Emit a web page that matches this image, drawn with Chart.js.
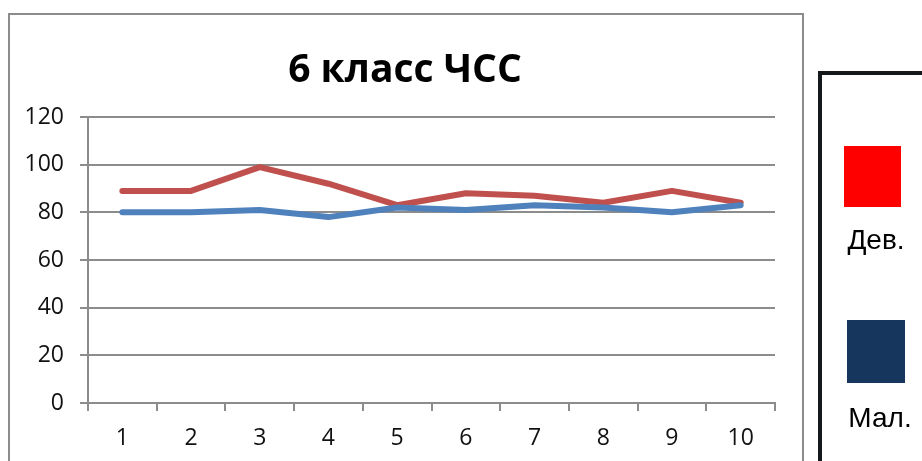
<!DOCTYPE html>
<html>
<head>
<meta charset="utf-8">
<script src="https://cdn.jsdelivr.net/npm/chart.js@4.4.1/dist/chart.umd.min.js"></script>
<style>
  html, body { margin: 0; padding: 0; background: #fff; }
  canvas { display: block; }
</style>
</head>
<body>
<canvas id="chart" width="922" height="461"></canvas>
<script>
"use strict";
const chartTitle = "6 класс ЧСС";
const categories = ["1", "2", "3", "4", "5", "6", "7", "8", "9", "10"];
const girlsLabel = "Дев.";
const boysLabel = "Мал.";
const girlsValues = [89, 89, 99, 92, 83, 88, 87, 84, 89, 84];
const boysValues = [80, 80, 81, 78, 82, 81, 83, 82, 80, 83];

document.addEventListener("DOMContentLoaded", () => {
    const ctx = document.getElementById("chart").getContext("2d");
    Chart.defaults.font.family = "Open Sans";
    Chart.defaults.font.size = 23;
    Chart.defaults.color = "#111";

    // frame, title and the legend box like the excel export
    const decor = {
        id: "decor",
        beforeDraw(chart) {
            const c = chart.ctx;
            c.save();
            c.fillStyle = "#fff";
            c.fillRect(0, 0, chart.width, chart.height);
            c.strokeStyle = "#8c8c8c";
            c.lineWidth = 2;
            c.strokeRect(9, 14, 794, 470);
            c.restore();
        },
        afterDraw(chart) {
            const c = chart.ctx;
            c.save();
            c.fillStyle = "#000";
            c.font = "bold 39px 'Open Sans'";
            c.textAlign = "center";
            c.textBaseline = "alphabetic";
            c.fillText(chartTitle, 405, 82);

            c.strokeStyle = "#15191c";
            c.lineWidth = 4;
            c.strokeRect(820, 73, 200, 420);

            const boxes = [
                { fill: "#ff0000", x: 844, y: 146, w: 57, h: 61, tx: 876, ty: 249 },
                { fill: "#17365d", x: 847, y: 320, w: 58, h: 63, tx: 880, ty: 427 },
            ];
            const labels = [chart.data.datasets[0].label, chart.data.datasets[1].label];
            c.font = "28px 'Liberation Sans'";
            boxes.forEach((b, i) => {
                c.fillStyle = b.fill;
                c.fillRect(b.x, b.y, b.w, b.h);
                c.fillStyle = "#000";
                c.fillText(labels[i], b.tx, b.ty);
            });
            c.restore();
        },
    };

    new Chart(ctx, {
        type: "line",
        data: {
            labels: categories,
            datasets: [
                {
                    label: girlsLabel,
                    data: girlsValues,
                    borderColor: "#c0504d",
                    borderWidth: 6,
                    order: 2,
                },
                {
                    label: boysLabel,
                    data: boysValues,
                    borderColor: "#4f81bd",
                    borderWidth: 6,
                    order: 1,
                },
            ],
        },
        options: {
            responsive: false,
            animation: false,
            layout: { padding: { left: 0, right: 147, top: 117, bottom: 0 } },
            elements: {
                point: { radius: 0 },
                line: { tension: 0, borderCapStyle: "round", borderJoinStyle: "round" },
            },
            plugins: {
                legend: { display: false },
                title: { display: false },
                tooltip: { enabled: false },
            },
            scales: {
                x: {
                    offset: true,
                    afterFit(scale) { scale.height = 58; },
                    grid: {
                        offset: true,
                        drawOnChartArea: false,
                        drawTicks: true,
                        tickLength: 8,
                        color: "#8c8c8c",
                        lineWidth: 2,
                    },
                    border: { color: "#8c8c8c", width: 2 },
                    ticks: {
                        font: { size: 23 },
                        padding: 14,
                        maxRotation: 0,
                        autoSkip: false,
                    },
                },
                y: {
                    min: 0,
                    max: 120,
                    afterFit(scale) { scale.width = 88; },
                    grid: {
                        color: "#8c8c8c",
                        lineWidth: 2,
                        tickLength: 8,
                    },
                    border: { color: "#8c8c8c", width: 2 },
                    ticks: {
                        stepSize: 20,
                        font: { size: 23 },
                        padding: 16,
                    },
                },
            },
        },
        plugins: [decor],
    });
});
</script>
</body>
</html>
